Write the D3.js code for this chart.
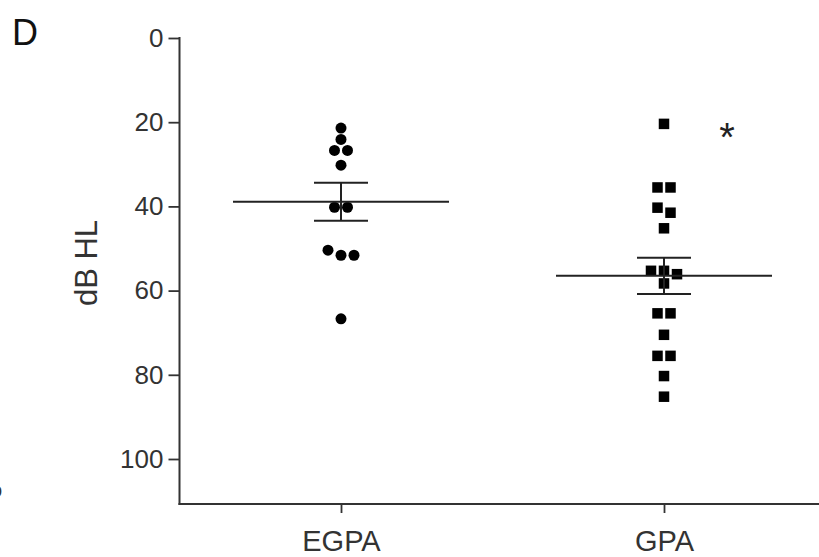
<!DOCTYPE html>
<html>
<head>
<meta charset="utf-8">
<script src="https://cdn.jsdelivr.net/npm/d3@7"></script>
<style>
  html, body { margin: 0; padding: 0; background: #fff; }
  svg { display: block; }
  text { font-family: "Liberation Sans", Arial, sans-serif; }
</style>
</head>
<body>
<svg id="chart" width="819" height="557"></svg>
<script>
// ---- data ----
const categories = ["EGPA", "GPA"];
const egpaValues = [21.4, 24.1, 26.7, 26.7, 30.2, 40.2, 40.2, 50.4, 51.6, 51.6, 66.7];
const gpaValues = [20.4, 35.5, 35.5, 40.3, 41.5, 45.2, 55.3, 55.3, 56.1, 58.3, 65.4, 65.4, 70.5, 75.5, 75.5, 80.3, 85.2];
const means = [38.9, 56.5];
const sems = [4.5, 4.3];
const yTicks = [0, 20, 40, 60, 80, 100];
const yLabel = "dB HL";
const panelLabel = "D";
const significance = ["", "*"];

// ---- layout ----
const svg = d3.select("#chart");
const axisColor = "#333";
const x = d3.scalePoint().domain(categories).range([341, 664]);
const y = d3.scaleLinear().domain([0, 100]).range([38, 459]);
const axisLeftX = 179.5, axisBottomY = 504;

// y axis
const yAxis = d3.axisLeft(y).tickValues(yTicks).tickSize(11).tickPadding(5);
const gy = svg.append("g").attr("transform", `translate(${axisLeftX},0)`).call(yAxis);
gy.select(".domain").remove();
gy.append("line").attr("x1", 0).attr("x2", 0).attr("y1", y(0) - 1).attr("y2", axisBottomY + 1)
  .attr("stroke", axisColor).attr("stroke-width", 2);
gy.selectAll(".tick line").attr("stroke", axisColor).attr("stroke-width", 1.8);
gy.selectAll(".tick text").attr("fill", "#333").attr("font-size", 26)
  .attr("font-family", "'Liberation Sans', Arial, sans-serif");

// x axis
const xAxis = d3.axisBottom(x).tickSize(9).tickPadding(8);
const gx = svg.append("g").attr("transform", `translate(0,${axisBottomY})`).call(xAxis);
gx.select(".domain").remove();
gx.append("line").attr("x1", axisLeftX - 1).attr("x2", 819).attr("y1", 0).attr("y2", 0)
  .attr("stroke", axisColor).attr("stroke-width", 2);
gx.selectAll(".tick line").attr("stroke", axisColor).attr("stroke-width", 1.8);
gx.selectAll(".tick text").attr("fill", "#333").attr("font-size", 29).attr("dy", "1.05em")
  .attr("font-family", "'Liberation Sans', Arial, sans-serif");

// y label
svg.append("text")
  .attr("transform", `translate(97,263) rotate(-90)`)
  .attr("text-anchor", "middle")
  .attr("font-size", 31)
  .attr("fill", "#333")
  .text(yLabel);

// panel label
svg.append("text").attr("x", 12).attr("y", 45).attr("font-size", 36).attr("fill", "#111").text(panelLabel);
// fragment of neighbouring panel (cut off at the left edge, as in the reference)
svg.append("text").attr("x", -9).attr("y", 497).attr("font-size", 20).attr("fill", "#333").text("o");

// beeswarm-like row layout
function layout(values, cat) {
  const sorted = values.slice().sort((a, b) => a - b);
  const rows = [];
  let cur = null;
  sorted.forEach(v => {
    if (cur && (y(v) - y(cur[0])) < 8) cur.push(v);
    else { cur = [v]; rows.push(cur); }
  });
  const pts = [];
  const spacing = 13;
  rows.forEach(r => {
    r.forEach((v, i) => {
      pts.push({ v, cx: x(cat) + (i - (r.length - 1) / 2) * spacing, cy: y(v) });
    });
  });
  return pts;
}

const egpaPts = layout(egpaValues, "EGPA");
const gpaPts = layout(gpaValues, "GPA");

svg.append("g").selectAll("circle").data(egpaPts).join("circle")
  .attr("cx", d => d.cx).attr("cy", d => d.cy).attr("r", 5.5).attr("fill", "#000");

svg.append("g").selectAll("rect").data(gpaPts).join("rect")
  .attr("x", d => d.cx - 5.25).attr("y", d => d.cy - 5.25).attr("width", 10.5).attr("height", 10.5).attr("fill", "#000");

// mean and SEM
const summary = categories.map((c, i) => ({ c, m: means[i], s: sems[i] }));
const gm = svg.append("g").attr("stroke", "#222").attr("stroke-width", 2);
summary.forEach(d => {
  const cx = x(d.c);
  gm.append("line").attr("x1", cx - 108).attr("x2", cx + 108).attr("y1", y(d.m)).attr("y2", y(d.m));
  gm.append("line").attr("x1", cx).attr("x2", cx).attr("y1", y(d.m - d.s)).attr("y2", y(d.m + d.s));
  gm.append("line").attr("x1", cx - 27).attr("x2", cx + 27).attr("y1", y(d.m - d.s)).attr("y2", y(d.m - d.s));
  gm.append("line").attr("x1", cx - 27).attr("x2", cx + 27).attr("y1", y(d.m + d.s)).attr("y2", y(d.m + d.s));
});

// significance
svg.append("g").selectAll("text").data(significance).join("text")
  .attr("x", (d, i) => x(categories[i]) + 63)
  .attr("y", y(20) + 29)
  .attr("text-anchor", "middle")
  .attr("font-size", 40)
  .attr("fill", "#222")
  .text(d => d);
</script>
</body>
</html>
